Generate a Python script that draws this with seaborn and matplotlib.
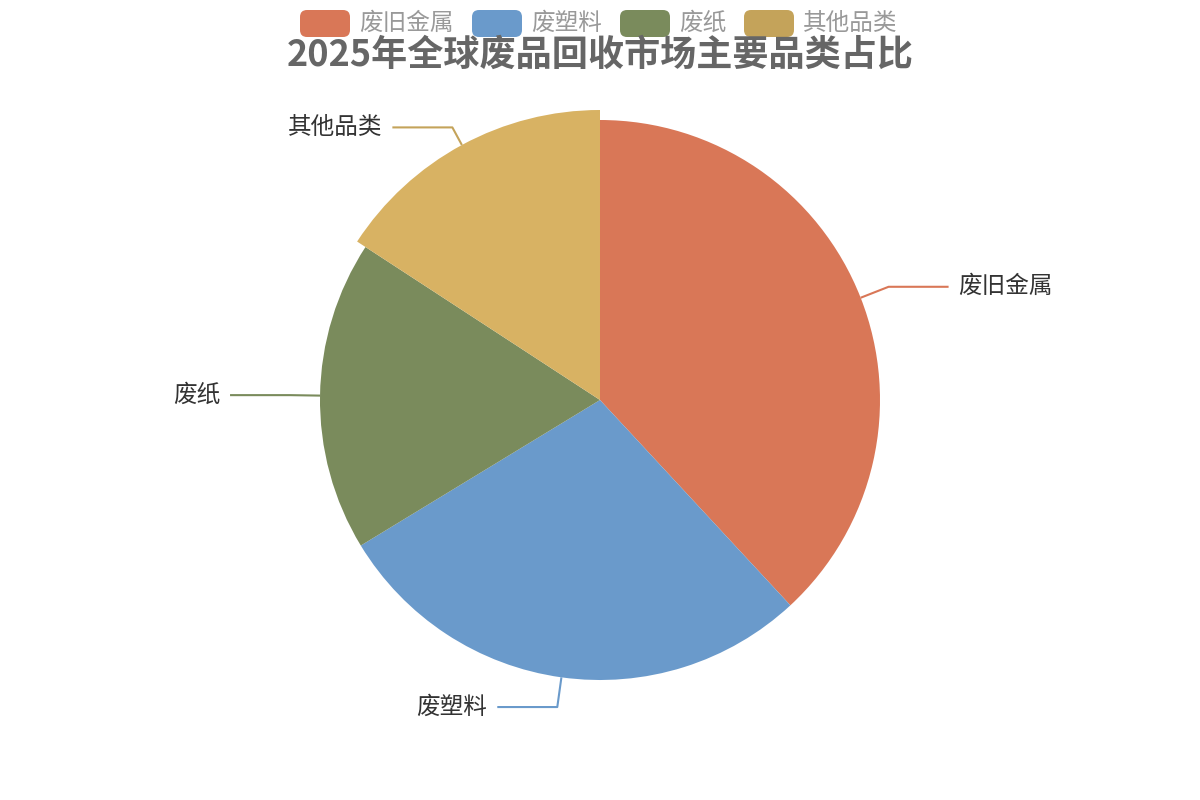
import numpy as np
import matplotlib
matplotlib.use("Agg")
import matplotlib.pyplot as plt
import seaborn as sns
from matplotlib.patches import FancyBboxPatch

# data
categories = ["废旧金属", "废塑料", "废纸", "其他品类"]
shares = [38.1, 28.2, 17.9, 15.8]
colors = ["#d97757", "#6a9acb", "#7a8b5c", "#d8b263"]
legend_colors = ["#d97757", "#6a9acb", "#7a8b5c", "#c4a35a"]
title = "2025年全球废品回收市场主要品类占比"

sns.set_theme(style="white")
plt.rcParams['font.family'] = ['Noto Sans CJK SC', 'DejaVu Sans']

fig = plt.figure(figsize=(12, 8), dpi=100)
ax = fig.add_axes([0, 0, 1, 1])

cx, cy, r = 600, 400, 280
wedges, _ = ax.pie(shares, colors=colors, startangle=90, counterclock=False,
                   radius=r, center=(cx, cy),
                   wedgeprops=dict(linewidth=0))
# last slice is highlighted (bigger)
wedges[-1].set_radius(r + 10)

ax.set_xlim(0, 1200)
ax.set_ylim(0, 800)
ax.set_aspect('equal')
ax.axis('off')

# leader lines + labels
for i, w in enumerate(wedges):
    mid = np.deg2rad((w.theta1 + w.theta2) / 2)
    rr = w.r
    x0, y0 = cx + rr * np.cos(mid), cy + rr * np.sin(mid)
    x1, y1 = cx + 310 * np.cos(mid), cy + 310 * np.sin(mid)
    side = 1 if np.cos(mid) >= 0 else -1
    x2 = x1 + side * 60
    lc = legend_colors[i]
    ax.plot([x0, x1, x2], [y0, y1, y1], color=lc, lw=1.5, solid_capstyle='butt')
    ax.text(x2 + side * 10, y1, categories[i], ha='left' if side > 0 else 'right',
            va='center', fontsize=17, color='#333333')

# title
ax.text(600, 745, title, ha='center', va='center', fontsize=26,
        fontweight='bold', color='#666666')

# legend on top
item_x = [300, 472, 620, 744]
for i, name in enumerate(categories):
    x = item_x[i]
    ax.add_patch(FancyBboxPatch((x, 763), 50, 27,
                                boxstyle="round,pad=0,rounding_size=7",
                                mutation_aspect=1, linewidth=0,
                                facecolor=legend_colors[i]))
    ax.text(x + 59, 777, name, ha='left', va='center', fontsize=17,
            color='#999999')

fig.savefig("out.png", dpi=100)
